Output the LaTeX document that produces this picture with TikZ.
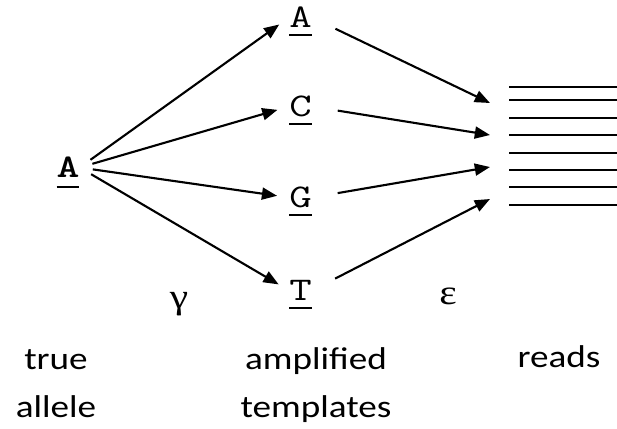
\documentclass[tikz,border=0pt]{standalone}
\usepackage{fontspec}
\usepackage{graphicx}
\setmainfont{Carlito}[FakeStretch=1.18]
\newfontfamily\greekfont{Liberation Serif}[FakeStretch=1.18]
\usetikzlibrary{arrows.meta}
\newcommand\ubar[2][5pt]{\vtop{\hbox{\scalebox{1.32}[1]{#2}}\kern#1\hrule height1.4pt}}

\begin{document}
\begin{tikzpicture}[x=0.025cm, y=-0.025cm,
		letter/.style={anchor=base, inner sep=0pt, text height=0.475cm, text depth=0pt,
			font=\ttfamily\fontsize{23.5}{28}\selectfont},
		word/.style={anchor=base, align=center, inner sep=0pt,
			font=\fontsize{22.4}{34}\selectfont},
		greek/.style={font=\greekfont\fontsize{25}{30}\selectfont},
		read/.style={line width=1.4pt}]
		\useasboundingbox (0,0) rectangle (617,428);
		
		\node[letter] (true) at (68,177) {\ubar[6.5pt]{\bfseries A}};
		\node[letter] (tA) at (300.5,27) {\ubar{A}};
		\node[letter] (tC) at (300.5,116) {\ubar{C}};
		\node[letter] (tG) at (300.5,207) {\ubar{G}};
		\node[letter] (tT) at (300.5,300) {\ubar{T}};
		
		\foreach \y in {86.7,100,118.3,135,152.7,170,187.3,205}
			\draw[read] (509,\y) -- (617,\y);
		\coordinate (r1) at (490,103);
		\coordinate (r2) at (490,135);
		\coordinate (r3) at (490,167);
		\coordinate (r4) at (490,199);
		
		\path[e/.style={line width=1.5pt, -{Triangle[length=0.38cm, width=0.3cm]}},
			fan/.style={e, shorten <=0.33cm, shorten >=0.3cm},
			merge/.style={e, shorten <=0.65cm}]
		(true.east) edge[fan] (tA.west)
			edge[fan] (tC.west)
			edge[fan] (tG.west)
			edge[fan] (tT.west)
		(tA.east) edge[merge] (r1)
		(tC.east) edge[merge] (r2)
		(tG.east) edge[merge] (r3)
		(tT.east) edge[merge] (r4);
		
		\node[greek] (gamma) at (179,304) {γ};
		\node[greek] (eps) at (448,296) {ε};
		
		\node[word] (allele) at (56,417) {true\\allele};
		\node[word] (templates) at (316,417) {amplified\\templates};
		\node[word] (reads) at (559,367) {reads};
	\end{tikzpicture}
\end{document}
